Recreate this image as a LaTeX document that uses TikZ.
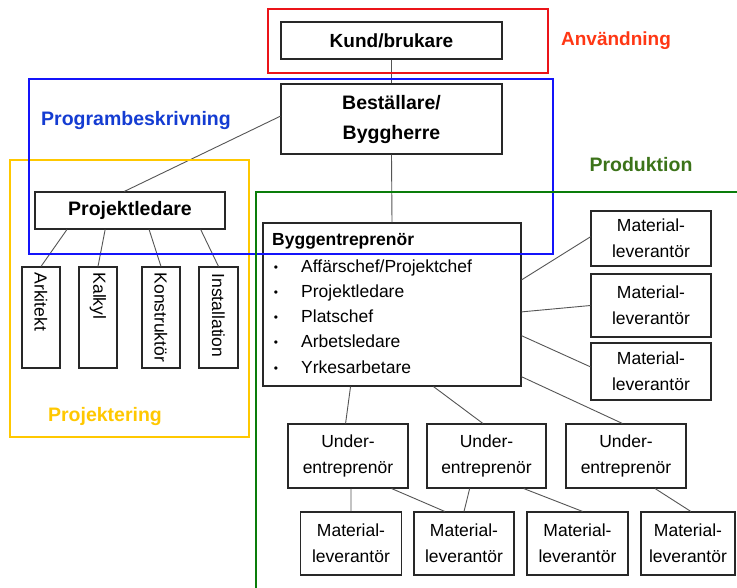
\documentclass[tikz,border=0pt]{standalone}
\usepackage{fontspec}
\setmainfont{Liberation Sans}
\usetikzlibrary{calc}

\definecolor{boxline}{RGB}{40,40,40}
\definecolor{linegray}{RGB}{85,85,85}
\definecolor{frRed}{RGB}{235,20,25}
\definecolor{txRed}{RGB}{255,55,20}
\definecolor{frBlue}{RGB}{20,20,250}
\definecolor{txBlue}{RGB}{20,60,210}
\definecolor{frYellow}{RGB}{255,200,0}
\definecolor{frGreen}{RGB}{10,125,10}
\definecolor{txGreen}{RGB}{60,115,25}

\begin{document}
\begin{tikzpicture}[x=1pt,y=-1pt,
  box/.style={draw=boxline, line width=1.1pt, fill=white, inner sep=0pt,
    align=center, font=\fontsize{17.5}{26}\selectfont},
  boldbox/.style={box, font=\fontsize{19.5}{30}\selectfont\bfseries},
  vtext/.style={rotate=-90, anchor=west, inner sep=0pt, font=\fontsize{17.5}{20}\selectfont},
  itemtext/.style={anchor=base west, inner sep=0pt, font=\fontsize{17.5}{20}\selectfont},
  bullet/.style={anchor=base, inner sep=0pt, font=\fontsize{12}{14}\selectfont},
  conn/.style={draw=linegray, line width=0.9pt},
  frame/.style={line width=2pt},
  phase/.style={anchor=base, inner sep=0pt, font=\fontsize{19.5}{22}\selectfont\bfseries}
]
\clip (0,0) rectangle (737,587);
\fill[white] (0,0) rectangle (737,587);

% top of the hierarchy
\node[boldbox, minimum width=221pt, minimum height=37pt, font=\fontsize{19}{22}\selectfont\bfseries] (kund) at (391.5,40.5) {Kund/brukare};
\node[boldbox, minimum width=221pt, minimum height=70pt] (best) at (391.5,119) {Beställare/\\Byggherre};

% design side
\node[boldbox, minimum width=190pt, minimum height=37pt] (pl) at (130,210.5) {Projektledare};
\node[box, minimum width=38pt, minimum height=101pt] (ark) at (41,317.5) {};
\node[box, minimum width=38pt, minimum height=101pt] (kal) at (98,317.5) {};
\node[box, minimum width=38pt, minimum height=101pt] (kon) at (161,317.5) {};
\node[box, minimum width=39pt, minimum height=101pt] (ins) at (218.5,317.5) {};
\node[vtext] (arkT) at ($(ark.north)+(0,6)$) {Arkitekt};
\node[vtext] (kalT) at ($(kal.north)+(0,6)$) {Kalkyl};
\node[vtext] (konT) at ($(kon.north)+(0,6)$) {Konstruktör};
\node[vtext] (insT) at ($(ins.north)+(0,7)$) {Installation};

% main contractor
\node[box, minimum width=258pt, minimum height=163pt] (bygg) at (392,304.5) {};
\node[itemtext, font=\fontsize{17.5}{20}\selectfont\bfseries] (byggT) at (272,245) {Byggentreprenör};
\foreach \n/\t/\yy in {a/Affärschef\slash Projektchef/272, b/Projektledare/297, c/Platschef/322.5, d/Arbetsledare/347.5, e/Yrkesarbetare/373}{
  \node[bullet] (bul\n) at (276,\yy-1) {•};
  \node[itemtext] (item\n) at (301,\yy) {\t};
}

% suppliers to the right
\node[box, minimum width=120pt, minimum height=55pt] (m1) at (651,238.5) {Material-\\leverantör};
\node[box, minimum width=120pt, minimum height=63pt] (m2) at (651,305.5) {Material-\\leverantör};
\node[box, minimum width=120pt, minimum height=57pt] (m3) at (651,371.5) {Material-\\leverantör};

% subcontractors
\node[box, minimum width=120pt, minimum height=64pt] (u1) at (348,456) {Under-\\entreprenör};
\node[box, minimum width=119pt, minimum height=64pt] (u2) at (486.5,456) {Under-\\entreprenör};
\node[box, minimum width=120pt, minimum height=64pt] (u3) at (626,456) {Under-\\entreprenör};

% bottom suppliers
\node[box, minimum width=101pt, minimum height=63pt] (m4) at (351,543.5) {Material-\\leverantör};
\node[box, minimum width=100pt, minimum height=63pt] (m5) at (464,543.5) {Material-\\leverantör};
\node[box, minimum width=101pt, minimum height=63pt] (m6) at (577.5,543.5) {Material-\\leverantör};
\node[box, minimum width=94pt, minimum height=63pt] (m7) at (688,543.5) {Material-\\leverantör};

% connectors
\draw[conn] (kund.south) -- (best.north);
\draw[conn] (best.south) -- (bygg.north);
\draw[conn] ($(best.north west)!0.46!(best.south west)$) -- ($(pl.north west)!0.47!(pl.north east)$);
\draw[conn] ($(pl.south west)!0.17!(pl.south east)$) -- (ark.north);
\draw[conn] ($(pl.south west)!0.37!(pl.south east)$) -- (kal.north);
\draw[conn] ($(pl.south west)!0.60!(pl.south east)$) -- (kon.north);
\draw[conn] ($(pl.south west)!0.87!(pl.south east)$) -- (ins.north);

\draw[conn] ($(bygg.north east)!0.35!(bygg.south east)$) -- ($(m1.north west)!0.47!(m1.south west)$);
\draw[conn] ($(bygg.north east)!0.545!(bygg.south east)$) -- (m2.west);
\draw[conn] ($(bygg.north east)!0.69!(bygg.south east)$) -- ($(m3.north west)!0.42!(m3.south west)$);
\draw[conn] ($(bygg.north east)!0.94!(bygg.south east)$) -- ($(u3.north west)!0.47!(u3.north east)$);
\draw[conn] ($(bygg.south west)!0.34!(bygg.south east)$) -- ($(u1.north west)!0.48!(u1.north east)$);
\draw[conn] ($(bygg.south west)!0.66!(bygg.south east)$) -- ($(u2.north west)!0.47!(u2.north east)$);

\draw[conn] ($(u1.south west)!0.525!(u1.south east)$) -- (m4.north);
\draw[conn] ($(u1.south west)!0.86!(u1.south east)$) -- ($(m5.north west)!0.31!(m5.north east)$);
\draw[conn] ($(u2.south west)!0.36!(u2.south east)$) -- (m5.north);
\draw[conn] ($(u2.south west)!0.81!(u2.south east)$) -- ($(m6.north west)!0.55!(m6.north east)$);
\draw[conn] ($(u3.south west)!0.74!(u3.south east)$) -- ($(m7.north west)!0.53!(m7.north east)$);

% phase frames
\draw[frame, frRed] (268,9) rectangle (548,73);
\draw[frame, frYellow] (10,160) rectangle (249,437);
\draw[frame, frBlue] (29,79) rectangle (553,254);
\draw[frame, frGreen] (256,192) rectangle (760,620);

% phase labels
\node[phase, text=txRed, font=\fontsize{19}{22}\selectfont\bfseries] (lblAnv) at (616,45) {Användning};
\node[phase, text=txBlue] (lblProg) at (136,125) {Programbeskrivning};
\node[phase, text=txGreen] (lblProd) at (641,171) {Produktion};
\node[phase, text=frYellow] (lblProj) at (105,421) {Projektering};
\end{tikzpicture}
\end{document}
